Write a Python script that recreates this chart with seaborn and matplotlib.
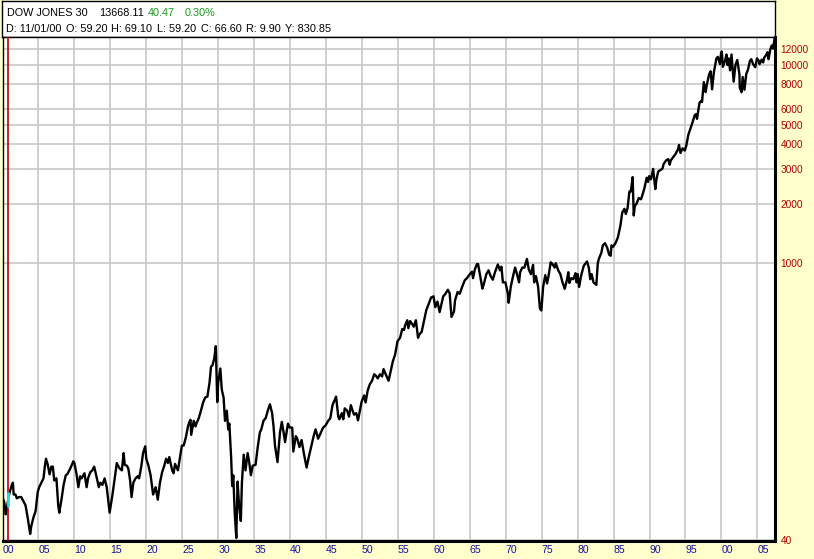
import numpy as np
import matplotlib
matplotlib.use("Agg")
import matplotlib.pyplot as plt
import seaborn as sns

# Dow Jones 30, monthly-ish closes (decimal year, level)
dates = [
    1900.0, 1900.25, 1900.45, 1900.6, 1900.85, 1901.0, 1901.3, 1901.45, 1901.55, 1901.8,
    1902.0, 1902.3, 1902.6, 1902.9, 1903.2, 1903.5, 1903.85, 1904.0, 1904.3, 1904.6,
    1904.9, 1905.1, 1905.4, 1905.7, 1905.9, 1906.05, 1906.3, 1906.55, 1906.8, 1907.0,
    1907.2, 1907.5, 1907.75, 1907.9, 1908.2, 1908.5, 1908.8, 1909.0, 1909.3, 1909.6,
    1909.85, 1910.0, 1910.3, 1910.55, 1910.8, 1911.0, 1911.4, 1911.7, 1911.9, 1912.2,
    1912.5, 1912.75, 1913.0, 1913.4, 1913.6, 1913.9, 1914.2, 1914.5, 1914.9, 1915.0,
    1915.3, 1915.6, 1915.9, 1916.0, 1916.3, 1916.6, 1916.85, 1917.0, 1917.3, 1917.5,
    1917.75, 1917.95, 1918.2, 1918.5, 1918.8, 1919.0, 1919.3, 1919.55, 1919.85, 1920.0,
    1920.3, 1920.6, 1920.95, 1921.3, 1921.6, 1921.9, 1922.2, 1922.5, 1922.75, 1923.0,
    1923.2, 1923.6, 1923.8, 1924.0, 1924.4, 1924.7, 1924.95, 1925.2, 1925.5, 1925.8,
    1926.0, 1926.15, 1926.25, 1926.6, 1926.85, 1927.0, 1927.3, 1927.6, 1927.9, 1928.2,
    1928.5, 1928.8, 1929.0, 1929.2, 1929.45, 1929.67, 1929.82, 1929.87, 1930.0, 1930.3,
    1930.5, 1930.75, 1930.95, 1931.2, 1931.4, 1931.55, 1931.8, 1931.95, 1932.1, 1932.3,
    1932.52, 1932.7, 1932.9, 1933.15, 1933.3, 1933.55, 1933.8, 1934.1, 1934.3, 1934.55,
    1934.8, 1935.2, 1935.5, 1935.8, 1936.0, 1936.3, 1936.6, 1936.9, 1937.2, 1937.5,
    1937.7, 1937.9, 1938.25, 1938.6, 1938.85, 1939.1, 1939.3, 1939.7, 1939.95, 1940.3,
    1940.45, 1940.8, 1941.0, 1941.3, 1941.6, 1941.95, 1942.3, 1942.6, 1942.95, 1943.3,
    1943.55, 1943.9, 1944.3, 1944.6, 1944.95, 1945.3, 1945.6, 1945.9, 1946.1, 1946.4,
    1946.7, 1946.85, 1947.2, 1947.4, 1947.6, 1947.95, 1948.2, 1948.45, 1948.7, 1948.9,
    1949.2, 1949.45, 1949.7, 1949.95, 1950.3, 1950.5, 1950.8, 1951.1, 1951.4, 1951.7,
    1951.95, 1952.2, 1952.5, 1952.8, 1953.0, 1953.3, 1953.7, 1953.95, 1954.3, 1954.6,
    1954.95, 1955.3, 1955.6, 1955.85, 1956.0, 1956.3, 1956.45, 1956.7, 1956.95, 1957.2,
    1957.5, 1957.8, 1957.95, 1958.3, 1958.6, 1958.95, 1959.3, 1959.6, 1959.95, 1960.2,
    1960.5, 1960.8, 1961.0, 1961.3, 1961.6, 1961.95, 1962.2, 1962.45, 1962.8, 1962.95,
    1963.3, 1963.6, 1963.95, 1964.3, 1964.6, 1964.95, 1965.3, 1965.45, 1965.7, 1966.0,
    1966.15, 1966.4, 1966.75, 1966.95, 1967.3, 1967.6, 1967.9, 1968.2, 1968.5, 1968.9,
    1969.2, 1969.4, 1969.6, 1969.95, 1970.3, 1970.4, 1970.7, 1970.95, 1971.3, 1971.6,
    1971.85, 1972.0, 1972.3, 1972.6, 1972.95, 1973.2, 1973.5, 1973.8, 1973.95, 1974.2,
    1974.5, 1974.75, 1974.95, 1975.2, 1975.5, 1975.75, 1975.95, 1976.25, 1976.5, 1976.8,
    1976.95, 1977.3, 1977.6, 1977.85, 1978.2, 1978.5, 1978.7, 1978.85, 1979.1, 1979.4,
    1979.7, 1979.85, 1980.0, 1980.2, 1980.5, 1980.85, 1981.3, 1981.55, 1981.75, 1981.95,
    1982.2, 1982.6, 1982.8, 1982.95, 1983.3, 1983.5, 1983.8, 1984.1, 1984.4, 1984.6,
    1984.7, 1984.95, 1985.3, 1985.6, 1985.95, 1986.2, 1986.5, 1986.7, 1986.95, 1987.2,
    1987.4, 1987.65, 1987.8, 1987.95, 1988.2, 1988.5, 1988.8, 1988.95, 1989.3, 1989.6,
    1989.8, 1989.95, 1990.2, 1990.5, 1990.8, 1990.95, 1991.2, 1991.5, 1991.8, 1991.95,
    1992.3, 1992.6, 1992.8, 1992.95, 1993.3, 1993.6, 1993.95, 1994.1, 1994.3, 1994.6,
    1994.9, 1995.1, 1995.4, 1995.7, 1995.95, 1996.3, 1996.5, 1996.6, 1996.95, 1997.2,
    1997.3, 1997.55, 1997.8, 1997.95, 1998.3, 1998.5, 1998.7, 1998.95, 1999.3, 1999.5,
    1999.8, 1999.95, 2000.05, 2000.2, 2000.5, 2000.7, 2000.85, 2001.0, 2001.2, 2001.4,
    2001.7, 2001.95, 2002.2, 2002.5, 2002.55, 2002.8, 2002.95, 2003.2, 2003.45, 2003.7,
    2003.95, 2004.15, 2004.4, 2004.7, 2004.95, 2005.2, 2005.3, 2005.6, 2005.8, 2005.95,
    2006.2, 2006.4, 2006.55, 2006.8, 2006.95, 2007.1, 2007.18, 2007.35, 2007.4,
]
dow = [
    66, 62, 54, 58, 66, 70, 76, 78, 68, 68,
    65, 66, 66, 63, 60, 52, 43, 47, 52, 56,
    70, 74, 78, 82, 95, 103, 96, 86, 94, 94,
    80, 82, 60, 55, 64, 76, 85, 86, 90, 95,
    100, 98, 86, 74, 84, 82, 87, 74, 82, 88,
    90, 94, 86, 74, 78, 76, 82, 74, 55, 58,
    68, 82, 98, 96, 92, 90, 110, 96, 95, 92,
    80, 66, 78, 82, 84, 82, 94, 110, 119, 103,
    95, 85, 68, 74, 64, 78, 88, 95, 103, 98,
    105, 90, 87, 97, 90, 105, 120, 120, 132, 150,
    158, 162, 136, 160, 150, 156, 165, 180, 198, 210,
    212, 250, 300, 305, 330, 381, 230, 199, 250, 294,
    230, 210, 160, 180, 145, 155, 105, 75, 85, 55,
    41, 79, 60, 50, 78, 108, 90, 110, 100, 85,
    95, 96, 118, 140, 145, 160, 165, 180, 194, 175,
    150, 120, 99, 140, 158, 140, 125, 155, 148, 148,
    112, 134, 130, 118, 128, 108, 93, 105, 119, 135,
    145, 130, 140, 148, 152, 160, 165, 192, 200, 212,
    168, 163, 175, 163, 185, 180, 168, 192, 180, 172,
    175, 161, 180, 200, 215, 198, 228, 245, 255, 275,
    270, 262, 275, 268, 292, 275, 255, 280, 320, 345,
    404, 420, 465, 460, 485, 515, 470, 510, 495, 478,
    515, 420, 435, 450, 505, 580, 625, 670, 680, 600,
    640, 566, 610, 680, 700, 734, 705, 535, 570, 650,
    715, 700, 762, 820, 840, 875, 905, 840, 930, 990,
    990, 880, 744, 785, 880, 920, 860, 825, 900, 985,
    920, 960, 800, 800, 700, 631, 760, 840, 950, 870,
    800, 900, 950, 950, 1050, 930, 880, 980, 800, 860,
    760, 590, 577, 760, 870, 790, 860, 1010, 990, 950,
    1000, 920, 880, 810, 742, 820, 900, 795, 840, 830,
    890, 800, 880, 759, 870, 970, 1020, 950, 830, 880,
    800, 777, 1000, 1050, 1130, 1230, 1260, 1200, 1100, 1090,
    1230, 1210, 1270, 1350, 1550, 1800, 1880, 1770, 1900, 2300,
    2300, 2720, 1740, 1940, 2000, 2130, 2100, 2170, 2400, 2700,
    2570, 2750, 2650, 2990, 2365, 2630, 2900, 2950, 3000, 3160,
    3300, 3350, 3140, 3300, 3430, 3550, 3750, 3950, 3600, 3800,
    3700, 3900, 4450, 4790, 5100, 5600, 5650, 5350, 6450, 6600,
    6500, 8200, 7300, 7900, 9000, 9300, 7540, 9200, 10800, 11000,
    10100, 11500, 11700, 9800, 10500, 11300, 10000, 10800, 9400, 11300,
    8240, 10000, 10600, 9000, 7700, 7290, 8700, 7500, 9000, 9500,
    10450, 10700, 10100, 9750, 10800, 10500, 10100, 10650, 10300, 10900,
    11200, 11600, 10700, 12000, 12450, 12600, 12100, 13300, 13668,
]

# highlighted bar under the cursor (11/01/00)
cursor_date = 1900.83
cursor_low, cursor_high = 59.2, 69.1

year_ticks = list(range(1900, 2006, 5))
year_labels = [f"{y % 100:02d}" for y in year_ticks]
price_ticks = [40, 1000, 2000, 3000, 4000, 5000, 6000, 8000, 10000, 12000]

W, H = 814, 559
bg = "#FFFFCC"

sns.set_theme(style="white")
plt.rcParams["font.family"] = ["Liberation Sans", "DejaVu Sans"]

fig = plt.figure(figsize=(W / 100, H / 100), dpi=100, facecolor=bg)


def rect(x0, y0, x1, y1):
    return [x0 / W, 1 - y1 / H, (x1 - x0) / W, (y1 - y0) / H]


# header box
hax = fig.add_axes(rect(1.5, 0.5, 775, 37))
hax.set_facecolor("white")
hax.set_xticks([])
hax.set_yticks([])
for s in hax.spines.values():
    s.set_color("black")
    s.set_linewidth(1)

ax = fig.add_axes(rect(2.5, 37, 775, 541))
ax.set_facecolor("white")

sns.lineplot(x=dates, y=dow, ax=ax, color="black", linewidth=1.7,
             estimator=None, sort=False)
ax.axvline(cursor_date, color="#C00000", linewidth=1.2, zorder=3)
ax.plot([cursor_date, cursor_date], [cursor_low, cursor_high],
        color="#33DDDD", linewidth=2, zorder=4)

ax.set_yscale("log")
ax.set_xlim(1900, 2007.45)
ax.set_ylim(39.6, 13850)

ax.set_xticks(year_ticks)
ax.set_xticklabels(year_labels)
ax.yaxis.tick_right()
ax.set_yticks(price_ticks)
ax.set_yticklabels([str(p) for p in price_ticks])
ax.yaxis.set_minor_locator(matplotlib.ticker.NullLocator())
ax.tick_params(axis="x", length=0, pad=3, labelsize=7.6, labelcolor="#1010A0")
ax.tick_params(axis="y", length=0, pad=4, labelsize=7.3, labelcolor="#B00000")
for lab in ax.get_xticklabels():
    lab.set_ha("left")

ax.grid(True, color="#C4C4C4", linewidth=1.1)
ax.set_axisbelow(True)
ax.set_xlabel("")
ax.set_ylabel("")

for side, lw in [("left", 1), ("top", 1), ("right", 2.2), ("bottom", 2.2)]:
    ax.spines[side].set_visible(True)
    ax.spines[side].set_color("black")
    ax.spines[side].set_linewidth(lw)


def label(x, y, s, color="black"):
    fig.text(x / W, 1 - y / H, s, color=color, fontsize=7.8,
             ha="left", va="center")


label(7, 13, "DOW JONES 30")
label(99, 13, "13668.11")
label(148, 13, "40.47", "#1A9A1A")
label(185, 13, "0.30%", "#1A9A1A")

for x, s in [(6, "D: 11/01/00"), (66, "O: 59.20"), (111, "H: 69.10"),
             (157, "L: 59.20"), (201, "C: 66.60"), (246, "R: 9.90"),
             (285, "Y: 830.85")]:
    label(x, 29, s)

fig.savefig("out.png", dpi=100, facecolor=bg)
